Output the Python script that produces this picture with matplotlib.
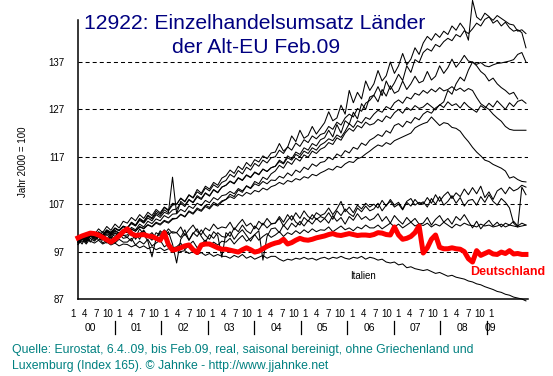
import numpy as np
import matplotlib
matplotlib.use('Agg')
from matplotlib import pyplot as plt

plt.rcParams['font.family'] = ['Liberation Sans', 'DejaVu Sans']
plt.rcParams['lines.scale_dashes'] = False

# monthly index, Jan 2000 = 0 ... Feb 2009 = 109
months = np.arange(110)

deutschland = [
    99.9, 100.3, 100.6, 100.9, 100.8, 100.5, 100.0, 99.5, 99.0, 99.6, 100.3, 101.2,
    101.8, 100.8, 100.4, 100.5, 100.6, 100.3, 100.2, 99.8, 99.4, 101.0, 98.5, 97.3,
    97.5, 97.8, 98.2, 98.4, 97.4, 96.8, 98.4, 98.6, 98.6, 98.2, 97.8, 97.5,
    97.5, 97.3, 97.1, 96.9, 97.4, 97.8, 97.4, 96.9, 97.1, 97.6, 98.1, 98.5,
    98.8, 99.0, 99.6, 98.6, 98.9, 99.4, 99.8, 99.5, 99.4, 99.6, 99.9, 100.1,
    100.3, 100.6, 100.8, 100.5, 100.4, 100.6, 100.8, 100.6, 100.4, 100.5, 100.5, 100.4,
    100.6, 101.0, 100.9, 100.6, 100.5, 102.2, 100.5, 99.6, 99.8, 100.2, 101.0, 102.4,
    96.7, 97.8, 99.6, 100.5, 97.9, 97.6, 97.6, 97.8, 97.6, 97.5, 97.0, 95.5,
    94.8, 97.2, 96.2, 96.6, 97.0, 96.5, 96.4, 96.9, 96.6, 97.2, 96.5, 96.6,
    96.4, 96.4]

italien = [
    99.5, 99.0, 99.8, 99.2, 98.8, 99.4, 98.6, 99.0, 98.4, 98.8, 98.2, 98.6,
    98.5, 98.0, 98.4, 97.8, 98.2, 97.6, 98.0, 97.4, 97.8, 97.2, 97.6, 97.4,
    97.5, 97.0, 97.2, 96.6, 97.0, 96.4, 96.8, 96.2, 96.6, 96.0, 96.4, 96.0,
    96.0, 95.6, 96.2, 95.8, 96.4, 95.6, 96.0, 95.4, 95.8, 96.2, 95.6, 96.0,
    96.0, 95.4, 95.0, 95.4, 95.2, 95.6, 95.4, 95.8, 95.4, 95.6, 95.2, 95.6,
    95.8, 95.4, 95.8, 95.6, 96.0, 95.6, 95.4, 95.8, 95.6, 96.0, 95.4, 95.8,
    95.6, 95.2, 95.4, 94.8, 94.6, 94.8, 94.2, 94.4, 93.6, 93.8, 93.4, 93.2,
    93.0, 93.2, 92.8, 92.4, 92.6, 92.2, 91.8, 92.0, 91.6, 91.4, 91.2, 90.8,
    90.6, 90.2, 90.0, 89.6, 89.3, 89.0, 88.6, 88.4, 88.0, 87.8, 87.4, 87.2,
    87.0, 86.6]

land_a = [
    99.0, 100.5, 99.8, 101.2, 100.6, 101.8, 101.0, 102.3, 101.5, 102.8, 102.0, 103.4,
    103.0, 104.2, 103.5, 104.8, 104.0, 105.3, 104.6, 105.9, 105.2, 106.4, 105.8, 107.2,
    107.0, 108.3, 107.6, 109.0, 108.4, 110.1, 109.3, 110.8, 110.2, 111.6, 111.0, 112.5,
    113.0, 114.2, 113.5, 115.0, 114.3, 115.8, 115.0, 116.4, 115.9, 117.2, 116.6, 117.8,
    118.0, 119.8, 118.2, 119.0, 121.4, 120.2, 122.6, 120.9, 121.5, 123.4, 121.8, 123.0,
    124.2, 126.5, 124.6, 125.2, 127.9, 126.0, 131.0, 128.4, 130.6, 129.2, 133.0, 131.0,
    132.4, 135.2, 133.0, 134.1, 137.0, 134.6, 136.2, 138.8, 136.4, 137.6, 140.0, 138.6,
    141.0, 142.4, 141.6, 143.0, 142.2, 143.5, 142.8, 144.6, 143.7, 145.2, 144.0, 141.6,
    150.0, 146.5, 145.8, 147.3, 146.6, 145.2, 145.8, 144.6, 145.4, 144.2, 143.5, 143.8,
    143.2, 140.0]

land_b = [
    98.5, 99.6, 99.0, 100.2, 99.8, 100.9, 100.3, 101.3, 100.8, 101.9, 101.4, 102.3,
    102.0, 102.9, 102.4, 103.6, 103.0, 104.1, 103.5, 104.8, 104.2, 105.3, 104.9, 105.8,
    106.0, 107.2, 106.5, 107.9, 107.3, 108.5, 108.0, 109.3, 108.7, 110.0, 109.4, 110.6,
    111.0, 111.8, 111.3, 112.5, 112.0, 113.1, 112.6, 113.7, 113.2, 114.4, 113.9, 114.7,
    115.0, 116.3, 115.7, 117.2, 116.6, 118.0, 117.5, 118.9, 118.4, 119.8, 119.3, 120.6,
    121.0, 122.6, 121.2, 123.8, 122.0, 124.6, 123.9, 126.4, 125.0, 128.2, 127.0, 129.6,
    130.0, 131.8, 129.9, 133.0, 131.2, 132.6, 134.4, 133.1, 136.2, 134.8, 137.5, 136.9,
    139.0, 139.8, 139.3, 140.7, 140.2, 141.3, 142.0, 141.5, 142.8, 142.3, 143.6, 143.0,
    144.0, 145.2, 144.6, 146.0, 146.5, 145.8, 146.8, 146.2, 145.6, 145.0, 144.8, 143.5,
    143.8, 143.0]

land_c = [
    99.5, 100.3, 99.9, 100.8, 100.2, 101.0, 100.5, 101.3, 100.7, 101.5, 100.9, 101.6,
    101.0, 102.1, 101.6, 102.8, 102.2, 103.4, 102.9, 103.9, 103.5, 104.6, 104.1, 104.9,
    105.0, 105.9, 105.4, 106.6, 106.1, 107.2, 106.7, 107.8, 107.3, 108.4, 107.9, 108.8,
    109.0, 109.7, 109.2, 110.3, 109.8, 110.8, 110.3, 111.3, 110.9, 111.8, 111.3, 112.1,
    112.0, 112.9, 112.5, 113.6, 113.0, 114.2, 113.7, 114.8, 114.3, 115.5, 115.0, 115.8,
    116.0, 116.9, 116.4, 117.6, 117.1, 118.3, 117.8, 119.0, 118.6, 119.9, 119.4, 120.5,
    121.0, 121.7, 121.3, 122.5, 122.0, 123.6, 124.0, 123.3, 124.5, 124.1, 125.3, 124.8,
    126.0, 126.6, 126.2, 127.3, 127.9, 128.6, 131.0, 130.2, 132.4, 133.8, 133.0, 135.3,
    137.0, 136.5, 136.9, 136.2, 136.0, 136.4, 136.7, 136.8, 137.0, 137.2, 137.5, 138.6,
    139.0, 137.0]

# this one is reported only up to Dec 2008
land_d = [
    99.0, 100.0, 99.5, 100.7, 100.1, 101.2, 100.6, 101.6, 101.1, 102.0, 101.5, 102.4,
    102.0, 103.2, 102.6, 104.0, 103.4, 104.7, 104.1, 105.5, 104.9, 106.3, 105.6, 106.8,
    107.0, 108.2, 107.5, 108.9, 108.3, 109.6, 109.0, 110.4, 109.8, 111.1, 110.5, 111.6,
    112.0, 113.3, 112.7, 114.1, 113.4, 114.8, 114.2, 115.6, 115.0, 116.3, 115.7, 116.8,
    117.0, 118.4, 117.7, 119.1, 118.4, 119.9, 119.2, 120.6, 120.0, 121.4, 120.8, 121.7,
    122.0, 123.4, 122.8, 124.3, 123.7, 125.2, 126.0, 125.4, 127.2, 126.6, 128.3, 128.9,
    130.0, 128.6, 131.2, 129.8, 132.0, 130.4, 130.9, 133.0, 131.2, 132.4, 134.0, 132.6,
    133.0, 135.0, 133.2, 134.0, 136.2, 134.6, 135.8, 137.6, 135.9, 137.0, 138.4, 137.2,
    137.0, 136.2, 135.0, 134.3, 133.0, 133.6, 132.4, 131.6, 131.0, 130.2, 130.6, 129.2]

land_e = [
    99.5, 100.1, 99.7, 100.5, 100.0, 100.8, 100.4, 101.1, 100.6, 101.3, 100.9, 101.4,
    101.0, 101.8, 101.3, 102.3, 101.9, 102.7, 102.3, 103.2, 102.8, 103.6, 103.2, 104.0,
    104.0, 104.9, 104.4, 105.6, 105.1, 106.2, 105.7, 106.8, 106.3, 107.4, 106.9, 107.7,
    108.0, 109.1, 108.6, 110.0, 109.5, 110.9, 110.4, 111.8, 111.3, 112.7, 112.2, 113.4,
    114.0, 115.2, 114.6, 116.0, 115.4, 116.7, 116.1, 117.4, 116.9, 118.2, 117.7, 118.6,
    119.0, 120.0, 119.6, 121.0, 120.5, 122.0, 123.0, 122.4, 123.6, 123.1, 124.3, 123.7,
    124.0, 124.9, 124.4, 125.6, 125.1, 126.3, 127.0, 126.2, 127.4, 126.8, 127.8, 127.2,
    127.5, 128.3, 127.6, 126.9, 128.0, 127.4, 128.6, 127.8, 128.2, 127.3, 128.5, 127.6,
    127.0, 126.4, 127.8, 127.2, 128.3, 127.5, 128.8, 127.9, 127.0, 128.4, 127.6, 128.7,
    129.0, 128.3]

land_f = [
    98.8, 100.0, 99.4, 100.6, 100.1, 101.0, 100.5, 101.5, 101.0, 101.9, 101.4, 102.2,
    102.0, 103.1, 102.5, 103.8, 103.2, 104.5, 103.9, 105.1, 104.6, 105.8, 105.2, 112.7,
    105.0, 107.6, 106.8, 108.0, 107.4, 108.8, 108.2, 109.4, 108.8, 110.1, 109.5, 110.6,
    111.0, 111.9, 111.4, 112.6, 112.1, 113.2, 112.7, 113.8, 113.3, 114.4, 113.9, 114.7,
    115.0, 116.0, 115.5, 116.8, 116.3, 117.5, 117.0, 118.2, 117.7, 118.9, 118.4, 119.5,
    120.0, 120.8, 120.4, 121.6, 121.1, 122.4, 124.0, 123.2, 124.6, 124.1, 125.3, 124.9,
    126.0, 126.8, 126.4, 127.6, 127.1, 128.4, 129.0, 128.3, 129.6, 129.2, 130.4, 130.0,
    131.0, 130.4, 131.3, 130.7, 131.6, 130.9, 131.2, 131.8, 131.0, 131.5, 130.8, 131.4,
    131.0, 129.5, 128.2, 127.6, 127.0, 126.0, 125.2, 124.5, 123.4, 122.8, 122.6, 122.6,
    122.6, 122.6]

land_g = [
    99.2, 99.8, 99.4, 100.2, 99.9, 100.5, 100.1, 100.8, 100.4, 101.0, 100.6, 101.2,
    101.0, 101.7, 101.3, 102.2, 101.8, 102.6, 102.2, 103.0, 102.6, 103.4, 103.0, 103.8,
    104.0, 104.8, 104.3, 105.4, 104.9, 105.9, 105.5, 106.5, 106.0, 107.0, 106.6, 107.5,
    108.0, 108.6, 108.2, 109.1, 108.7, 109.5, 109.1, 109.9, 109.6, 110.4, 110.0, 110.7,
    111.0, 111.6, 111.2, 112.0, 111.7, 112.4, 112.1, 112.8, 112.5, 113.3, 113.0, 113.6,
    114.0, 114.5, 114.2, 115.0, 114.7, 115.5, 116.0, 115.8, 116.6, 116.9, 117.6, 118.2,
    118.9, 119.5, 119.2, 120.0, 119.6, 120.4, 120.8, 121.2, 121.6, 122.0, 123.1, 123.6,
    124.0, 124.3, 125.4, 124.5, 123.6, 124.2, 124.0, 123.2, 123.0, 122.4, 121.2, 120.2,
    119.0, 118.0, 117.2, 116.3, 116.0, 115.4, 115.0, 114.6, 114.0, 112.5, 112.8, 112.2,
    111.8, 111.7]

land_h = [
    99.0, 100.4, 99.2, 100.8, 99.6, 100.2, 99.4, 100.6, 99.8, 100.9, 100.0, 100.5,
    100.0, 101.2, 99.6, 100.8, 101.5, 100.2, 101.0, 99.8, 101.4, 100.6, 101.8, 100.9,
    101.0, 102.2, 100.4, 101.6, 102.6, 101.2, 100.6, 102.0, 101.4, 102.8, 101.8, 102.2,
    102.0, 103.2, 101.6, 102.8, 103.8, 102.4, 103.0, 101.8, 103.4, 102.6, 104.0, 102.9,
    103.0, 104.4, 103.2, 104.8, 103.6, 105.2, 104.0, 105.6, 104.4, 103.8, 105.2, 104.6,
    105.0, 106.2, 104.8, 106.0, 107.6, 105.4, 106.4, 105.2, 106.8, 106.0, 107.2, 106.4,
    107.0, 106.2, 107.8, 106.6, 108.0, 106.8, 107.4, 106.0, 107.6, 108.2, 106.8, 107.4,
    107.0, 108.4, 107.2, 109.0, 107.6, 108.8, 109.6, 108.2, 109.4, 108.6, 110.2, 109.0,
    110.5, 109.2, 110.8, 108.4, 109.6, 108.0, 109.8, 110.4, 109.2, 110.6, 109.8, 110.2,
    111.0, 110.6]

land_i = [
    98.5, 99.8, 98.9, 100.6, 99.4, 100.0, 101.2, 99.6, 100.8, 100.2, 101.0, 100.4,
    100.5, 101.4, 100.0, 101.8, 100.6, 99.2, 95.9, 99.8, 101.0, 100.2, 101.2, 98.6,
    94.6, 99.6, 100.8, 99.4, 101.0, 100.2, 101.6, 100.4, 99.6, 101.2, 100.4, 95.8,
    101.0, 100.2, 102.0, 101.2, 102.6, 101.4, 100.8, 102.4, 101.6, 103.0, 102.0, 102.8,
    103.0, 104.0, 102.4, 103.6, 104.6, 103.2, 102.6, 104.2, 103.4, 104.8, 103.8, 104.4,
    104.0, 105.2, 103.8, 105.6, 104.6, 106.0, 105.0, 104.4, 106.2, 105.4, 106.6, 105.6,
    106.0, 107.2, 105.6, 106.8, 107.6, 106.4, 107.0, 105.8, 107.4, 106.6, 108.0, 107.0,
    107.5, 106.4, 108.2, 107.0, 108.6, 106.8, 107.6, 108.8, 107.2, 108.4, 106.6, 107.8,
    108.0, 106.8, 108.6, 107.4, 109.0, 107.6, 106.8, 108.2, 107.4, 106.2, 103.0, 102.2,
    110.6, 109.0]

land_j = [
    99.5, 98.6, 100.2, 99.0, 100.6, 99.4, 100.0, 98.8, 100.4, 99.6, 100.8, 99.8,
    100.0, 99.2, 100.8, 99.6, 101.4, 100.2, 99.4, 101.0, 100.4, 101.6, 100.6, 101.2,
    101.0, 100.0, 101.6, 99.4, 100.8, 101.8, 100.2, 99.0, 100.6, 99.8, 101.0, 100.2,
    100.0, 101.2, 99.6, 100.8, 101.6, 100.4, 99.2, 100.6, 101.4, 95.2, 100.2, 101.8,
    102.0, 101.0, 102.6, 101.6, 103.0, 102.2, 103.4, 102.4, 103.6, 102.8, 104.0, 103.2,
    104.0, 103.0, 104.6, 103.4, 104.2, 102.8, 104.4, 103.6, 105.0, 103.8, 104.4, 103.6,
    104.0, 105.0, 103.4, 104.4, 103.0, 104.6, 103.6, 102.8, 104.2, 103.2, 104.0, 102.8,
    103.0, 104.2, 102.6, 103.8, 104.6, 103.2, 104.0, 102.8, 104.4, 103.6, 104.8, 103.4,
    102.0, 103.4, 101.8, 102.8, 103.6, 102.4, 103.2, 102.2, 103.0, 102.6, 103.4, 102.4,
    103.0, 102.6]

land_k = [
    99.0, 99.6, 98.6, 99.8, 99.2, 100.2, 98.8, 99.4, 100.0, 98.8, 99.6, 99.0,
    99.0, 99.8, 98.4, 99.2, 98.6, 99.6, 98.2, 98.8, 99.4, 98.0, 98.6, 97.8,
    98.0, 98.8, 97.4, 98.4, 99.2, 97.8, 98.6, 99.4, 98.2, 99.0, 98.4, 99.2,
    99.0, 99.8, 98.6, 99.6, 100.4, 99.2, 99.8, 100.6, 99.4, 100.2, 100.8, 100.0,
    100.5, 101.2, 100.2, 101.0, 100.6, 101.4, 100.8, 101.6, 101.0, 101.8, 101.2, 101.6,
    101.5, 102.2, 101.2, 101.8, 102.4, 101.6, 102.0, 101.4, 102.2, 101.8, 102.6, 102.0,
    102.0, 102.6, 101.8, 102.4, 103.0, 102.2, 102.8, 102.0, 102.6, 103.2, 102.4, 102.8,
    102.5, 103.0, 102.2, 102.8, 102.4, 103.2, 102.6, 102.0, 102.8, 102.4, 103.0, 102.6,
    102.5, 102.2, 102.8, 102.4, 102.6, 102.2, 102.4, 102.8, 102.2, 102.6, 102.4, 102.2,
    102.4, 102.6]

other_countries = [land_a, land_b, land_c, land_d, land_e, land_f, land_g,
                   land_h, land_i, land_j, land_k, italien]

yticks = [87, 97, 107, 117, 127, 137]
month_labels = ['1', '4', '7', '10']
year_labels = ['00', '01', '02', '03', '04', '05', '06', '07', '08', '09']

W, H = 553, 376
fig = plt.figure('Graphic', figsize=(W / 100, H / 100), dpi=100)
ax = fig.add_axes([78 / W, 77 / H, 450 / W, 299 / H])
ax.set_xlim(0, 109.5)
ax.set_ylim(87, 87 + 299 / 4.74)

for v in yticks[1:]:
    ax.axhline(v, color='black', linewidth=0.75, dashes=(2.9, 2.2), zorder=1)

for s in other_countries:
    ax.plot(months[:len(s)], s, color='black', linewidth=0.75, clip_on=False, zorder=2)
ax.plot(months, deutschland, color=(1.0, 0.0, 0.0), linewidth=3.6, clip_on=False, zorder=3)

ax.text(66.2, 91.2, 'Italien', fontsize=7, ha='left', va='baseline')
ax.text(95.4, 92.06, 'Deutschland', fontsize=9, fontweight='bold', color='red',
        ha='left', va='baseline', clip_on=False)

ax.spines['top'].set_visible(False)
ax.spines['right'].set_visible(False)
ax.spines['left'].set_bounds(87, 145.9)
ax.spines['left'].set_linewidth(1.1)
ax.spines['bottom'].set_linewidth(1.1)
ax.set_xticks([])
ax.set_yticks(yticks)
ax.tick_params(axis='y', length=0, pad=9.5, labelsize=7)

# the month/year captions sit on a slightly different scale than the data
lab = fig.add_axes([78 / W, 77 / H, 450 / W, 299 / H], frameon=False)
lab.set_xlim((78 - 72.7) / 3.875, (528 - 72.7) / 3.875)
lab.set_ylim(0, 1)
lab.axis('off')
y_month = (299 - 317) / 299
y_year = (299 - 331) / 299
for j in range(9):
    for k, t in enumerate(month_labels):
        lab.text(12 * j + 3 * k, y_month, t, fontsize=7, ha='center', va='baseline')
    lab.text(12 * j + 4.5, y_year, year_labels[j], fontsize=7.5, ha='center', va='baseline')
    sep = 10.9 + 12 * j
    lab.plot([sep, sep], [(299 - 321) / 299, (299 - 334) / 299], color='black',
             linewidth=0.9, clip_on=False)
lab.text(108, y_month, '1', fontsize=7, ha='center', va='baseline')
lab.text(107.7, y_year, year_labels[9], fontsize=7.5, ha='center', va='baseline')

fig.text(255 / W, 1 - 29 / H, '12922: Einzelhandelsumsatz Länder', fontsize=15.2,
         color='#000080', ha='center', va='baseline')
fig.text(256 / W, 1 - 53 / H, 'der Alt-EU Feb.09', fontsize=15.2,
         color='#000080', ha='center', va='baseline')
fig.text(23 / W, 1 - 162 / H, 'Jahr 2000 = 100', fontsize=7, rotation=90,
         ha='center', va='center')

fig.text(12 / W, 1 - 352.5 / H,
         'Quelle: Eurostat, 6.4..09, bis Feb.09, real, saisonal bereinigt, ohne Griechenland und',
         fontsize=8.8, color='#008080', ha='left', va='baseline')
fig.text(12 / W, 1 - 369 / H,
         'Luxemburg (Index 165). © Jahnke - http://www.jjahnke.net',
         fontsize=8.8, color='#008080', ha='left', va='baseline')

fig.savefig('out.png', dpi=100)
